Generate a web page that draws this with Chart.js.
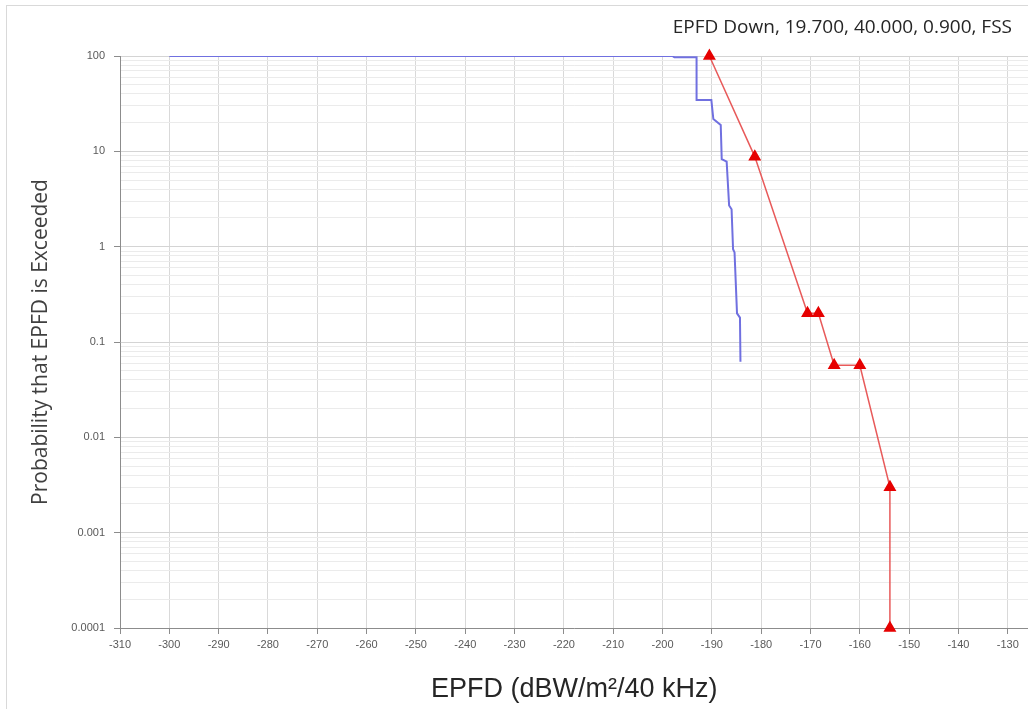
<!DOCTYPE html>
<html>
<head>
<meta charset="utf-8">
<script src="https://cdn.jsdelivr.net/npm/chart.js@4.4.1/dist/chart.umd.min.js"></script>
<style>
  html, body { margin: 0; padding: 0; background: #ffffff; overflow: hidden; }
  #wrap { position: relative; width: 1036px; height: 709px; }
</style>
</head>
<body>
<div id="wrap"><canvas id="c"></canvas></div>
<script>
// ---- data ----
const chartTitle = 'EPFD Down, 19.700, 40.000, 0.900, FSS';
const xAxisTitle = 'EPFD (dBW/m\u00B2/40 kHz)';
const yAxisTitle = 'Probability that EPFD is Exceeded';

const xTickValues = [-310, -300, -290, -280, -270, -260, -250, -240, -230, -220, -210, -200, -190, -180, -170, -160, -150, -140, -130];
const yTickValues = [0.0001, 0.001, 0.01, 0.1, 1, 10, 100];
const yTickLabels = ['0.0001', '0.001', '0.01', '0.1', '1', '10', '100'];

// blue series (EPFD distribution)
const blueX = [-300, -198, -197.6, -193.1, -193.1, -190.1, -189.7, -188.2, -188.0, -187.0, -186.5, -186.0, -185.7, -185.4, -184.9, -184.3, -184.2];
const blueY = [100, 100, 96.9, 96.9, 34.5, 34.5, 21.8, 18.9, 8.3, 7.8, 2.7, 2.47, 0.94, 0.87, 0.2, 0.18, 0.062];

// red series (limit mask)
const redX = [-190.5, -181.3, -170.6, -168.4, -165.2, -160.0, -153.9, -153.9];
const redY = [100, 8.8, 0.2, 0.2, 0.057, 0.057, 0.003, 0.0001];

// ---- build chart ----
const toPts = (xs, ys) => xs.map((x, i) => ({ x: x, y: ys[i] }));

function isDecade(v) {
  const l = Math.log10(v);
  return Math.abs(l - Math.round(l)) < 1e-6;
}
function decadeLabel(v) {
  const l = Math.round(Math.log10(v));
  for (let i = 0; i < yTickValues.length; i++) {
    if (Math.round(Math.log10(yTickValues[i])) === l) return yTickLabels[i];
  }
  return '';
}

const decor = {
  id: 'decor',
  beforeDraw(chart) {
    const ctx = chart.ctx;
    ctx.save();
    ctx.fillStyle = '#ffffff';
    ctx.fillRect(0, 0, chart.width, chart.height);
    ctx.strokeStyle = '#d9d9d9';
    ctx.lineWidth = 1;
    ctx.strokeRect(6.5, 5.5, chart.width + 20, chart.height + 20);
    ctx.restore();
  },
  afterDraw(chart) {
    const ctx = chart.ctx;
    ctx.save();
    ctx.font = '19px "Open Sans", "Noto Sans", sans-serif';
    ctx.fillStyle = '#262626';
    ctx.textAlign = 'right';
    ctx.textBaseline = 'middle';
    ctx.fillText(chartTitle, 1012, 28);
    ctx.restore();
  }
};

new Chart(document.getElementById('c'), {
  type: 'line',
  data: {
    datasets: [
      {
        label: 'EPFD',
        data: toPts(blueX, blueY),
        borderColor: '#7070e0',
        backgroundColor: '#7070e0',
        borderWidth: 2,
        pointRadius: 0,
        fill: false,
        tension: 0
      },
      {
        label: 'Mask',
        data: toPts(redX, redY),
        borderColor: '#e85a5a',
        backgroundColor: '#e60000',
        borderWidth: 1.5,
        pointStyle: 'triangle',
        pointRadius: 6,
        pointBorderColor: '#e60000',
        pointBackgroundColor: '#e60000',
        fill: false,
        tension: 0,
        clip: false
      }
    ]
  },
  options: {
    responsive: true,
    maintainAspectRatio: false,
    devicePixelRatio: 1,
    animation: false,
    layout: { padding: { left: 0, right: 0, top: 56, bottom: 0 } },
    plugins: {
      legend: { display: false },
      title: { display: false },
      tooltip: { enabled: false }
    },
    scales: {
      x: {
        type: 'linear',
        min: -310,
        max: -125.8,
        afterBuildTicks: (s) => { s.ticks = xTickValues.map(v => ({ value: v })); },
        afterFit: (s) => { s.height = 81; s.paddingLeft = 0; s.paddingRight = 0; },
        ticks: {
          autoSkip: false,
          maxRotation: 0,
          padding: 4,
          color: '#595959',
          font: { family: '"Liberation Sans", Arial, sans-serif', size: 11 },
          callback: (v) => String(v)
        },
        grid: { color: '#d9d9d9', tickColor: '#8c8c8c', tickLength: 6, lineWidth: 1 },
        border: { color: '#8c8c8c', width: 1 },
        title: {
          display: true,
          text: xAxisTitle,
          color: '#262626',
          font: { family: '"Liberation Sans", Arial, sans-serif', size: 27 },
          padding: { top: 0, bottom: 3 }
        }
      },
      y: {
        type: 'logarithmic',
        min: 0.0001,
        max: 100,
        afterBuildTicks: (s) => {
          const t = [];
          for (let i = 0; i < yTickValues.length - 1; i++) {
            for (let m = 1; m <= 9; m++) t.push({ value: yTickValues[i] * m, major: m === 1 });
          }
          t.push({ value: yTickValues[yTickValues.length - 1], major: true });
          s.ticks = t;
        },
        afterFit: (s) => { s.width = 120; },
        ticks: {
          autoSkip: false,
          padding: 9,
          color: '#595959',
          font: { family: '"Liberation Sans", Arial, sans-serif', size: 11 },
          callback: (v) => isDecade(v) ? decadeLabel(v) : ''
        },
        grid: {
          color: (c) => (c.tick && isDecade(c.tick.value)) ? '#d4d4d4' : '#ebebeb',
          tickColor: (c) => (c.tick && isDecade(c.tick.value)) ? '#8c8c8c' : 'rgba(0,0,0,0)',
          tickLength: 6,
          lineWidth: 1
        },
        border: { color: '#8c8c8c', width: 1 },
        title: {
          display: true,
          text: yAxisTitle,
          color: '#404040',
          font: { family: '"Open Sans", "Noto Sans", sans-serif', size: 21 },
          padding: { top: 28, bottom: 0 }
        }
      }
    }
  },
  plugins: [decor]
});
</script>
</body>
</html>
